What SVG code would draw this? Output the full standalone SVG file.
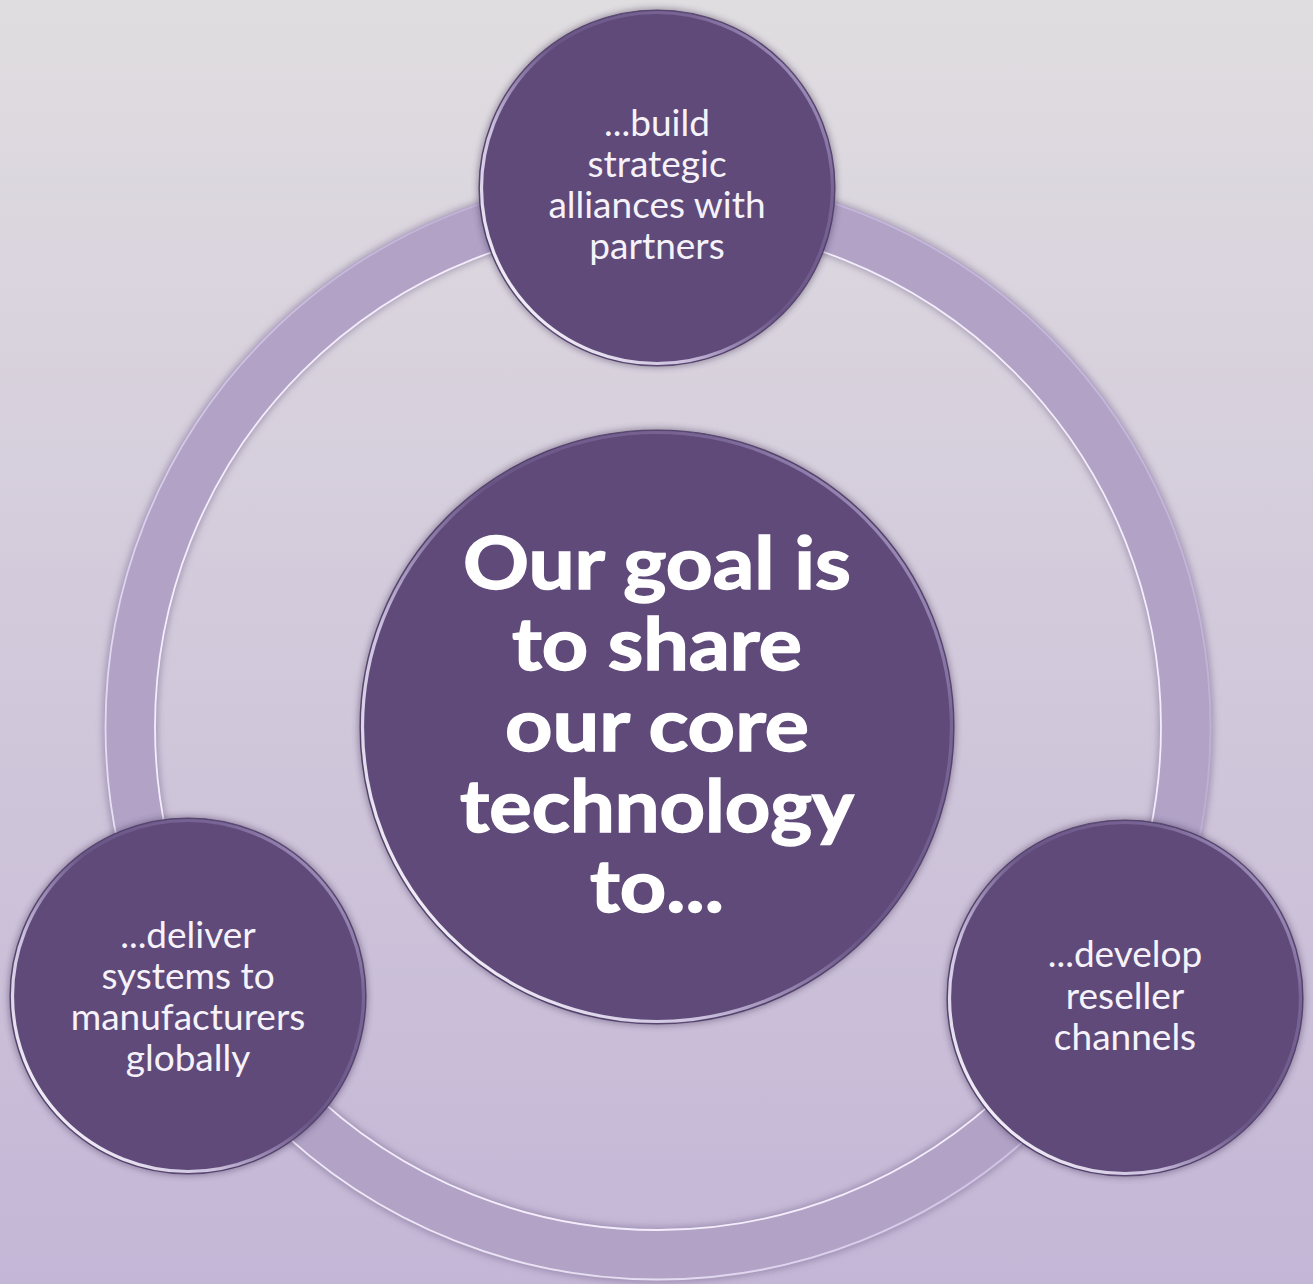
<svg xmlns="http://www.w3.org/2000/svg" width="1313" height="1284" viewBox="0 0 1313 1284">
  <style>
    .node-fill { fill: #5f4a7a; }
    .small { font-family: "Lato", "Open Sans", "Liberation Sans", sans-serif; font-size: 37px; fill: #f6f2fa; text-anchor: middle; }
    .big { font-family: "Lato", "Open Sans", "Liberation Sans", sans-serif; font-size: 72px; font-weight: 700; fill: #ffffff; stroke: #ffffff; stroke-width: 1.4; text-anchor: middle; }
  </style>
  <defs>
    <linearGradient id="bg" x1="0" y1="0" x2="0" y2="1">
      <stop offset="0" stop-color="#e0dde0"/>
      <stop offset="1" stop-color="#c4b6d6"/>
    </linearGradient>
    <!-- bright bevel edge, strongest toward the lower left -->
    <linearGradient id="rim" x1="0" y1="0.85" x2="0.9" y2="0.1">
      <stop offset="0" stop-color="#ffffff" stop-opacity="1"/>
      <stop offset="0.3" stop-color="#f0e8ff" stop-opacity="0.75"/>
      <stop offset="0.55" stop-color="#c8b8e8" stop-opacity="0.1"/>
      <stop offset="0.85" stop-color="#c8b8e8" stop-opacity="0.25"/>
      <stop offset="1" stop-color="#e0d4f8" stop-opacity="0.6"/>
    </linearGradient>
    <linearGradient id="ringrim" x1="0" y1="1" x2="1" y2="0">
      <stop offset="0" stop-color="#ffffff" stop-opacity="1"/>
      <stop offset="0.4" stop-color="#efe6ff" stop-opacity="0.6"/>
      <stop offset="0.7" stop-color="#d8ccf0" stop-opacity="0.3"/>
      <stop offset="1" stop-color="#e4daf6" stop-opacity="0.6"/>
    </linearGradient>
    <filter id="soft" x="-20%" y="-20%" width="140%" height="140%">
      <feGaussianBlur stdDeviation="3"/>
    </filter>
    <filter id="thin" x="-5%" y="-5%" width="110%" height="110%">
      <feGaussianBlur stdDeviation="0.7"/>
    </filter>
    <!-- bevelled disc used by every outer node -->
    <g id="disc">
      <circle r="180" fill="#3a2a50" opacity="0.4" filter="url(#soft)"/>
      <circle r="178" class="node-fill"/>
      <circle r="178" fill="none" stroke="#4a3a62" stroke-width="1.2" opacity="0.8"/>
      <circle r="175.5" fill="none" stroke="url(#rim)" stroke-width="3.2" filter="url(#thin)"/>
    </g>
    <g id="disc-big">
      <circle r="299" fill="#3a2a50" opacity="0.4" filter="url(#soft)"/>
      <circle r="297" class="node-fill"/>
      <circle r="297" fill="none" stroke="#4a3a62" stroke-width="1.2" opacity="0.8"/>
      <circle r="294.5" fill="none" stroke="url(#rim)" stroke-width="3.2" filter="url(#thin)"/>
    </g>
  </defs>

  <rect width="1313" height="1284" fill="url(#bg)"/>

  <!-- connecting ring -->
  <g id="connectors">
    <circle cx="658" cy="727" r="528" fill="none" stroke="#6a5a80" stroke-opacity="0.4" stroke-width="56" filter="url(#soft)"/>
    <circle cx="658" cy="727" r="528" fill="none" stroke="#b1a2c6" stroke-width="52"/>
    <circle cx="658" cy="727" r="503" fill="none" stroke="#f4eefc" stroke-width="1.8" filter="url(#thin)"/>
    <circle cx="658" cy="727" r="552.5" fill="none" stroke="url(#ringrim)" stroke-width="1.8" filter="url(#thin)"/>
  </g>

  <g id="node-top" transform="translate(657,188)">
    <use href="#disc"/>
    <text class="small" y="-52">...build</text>
    <text class="small" y="-11">strategic</text>
    <text class="small" y="30">alliances with</text>
    <text class="small" y="71">partners</text>
  </g>

  <g id="node-left" transform="translate(188,996)">
    <use href="#disc"/>
    <text class="small" y="-48">...deliver</text>
    <text class="small" y="-7">systems to</text>
    <text class="small" y="34">manufacturers</text>
    <text class="small" y="75">globally</text>
  </g>

  <g id="node-right" transform="translate(1125,998)">
    <use href="#disc"/>
    <text class="small" y="-31">...develop</text>
    <text class="small" y="11">reseller</text>
    <text class="small" y="52">channels</text>
  </g>

  <g id="node-center" transform="translate(657,727)">
    <use href="#disc-big"/>
    <text class="big" y="-138" textLength="388" lengthAdjust="spacingAndGlyphs">Our goal is</text>
    <text class="big" y="-57" textLength="290" lengthAdjust="spacingAndGlyphs">to share</text>
    <text class="big" y="24" textLength="304" lengthAdjust="spacingAndGlyphs">our core</text>
    <text class="big" y="105" textLength="394" lengthAdjust="spacingAndGlyphs">technology</text>
    <text class="big" y="185" textLength="134" lengthAdjust="spacingAndGlyphs">to...</text>
  </g>
</svg>
